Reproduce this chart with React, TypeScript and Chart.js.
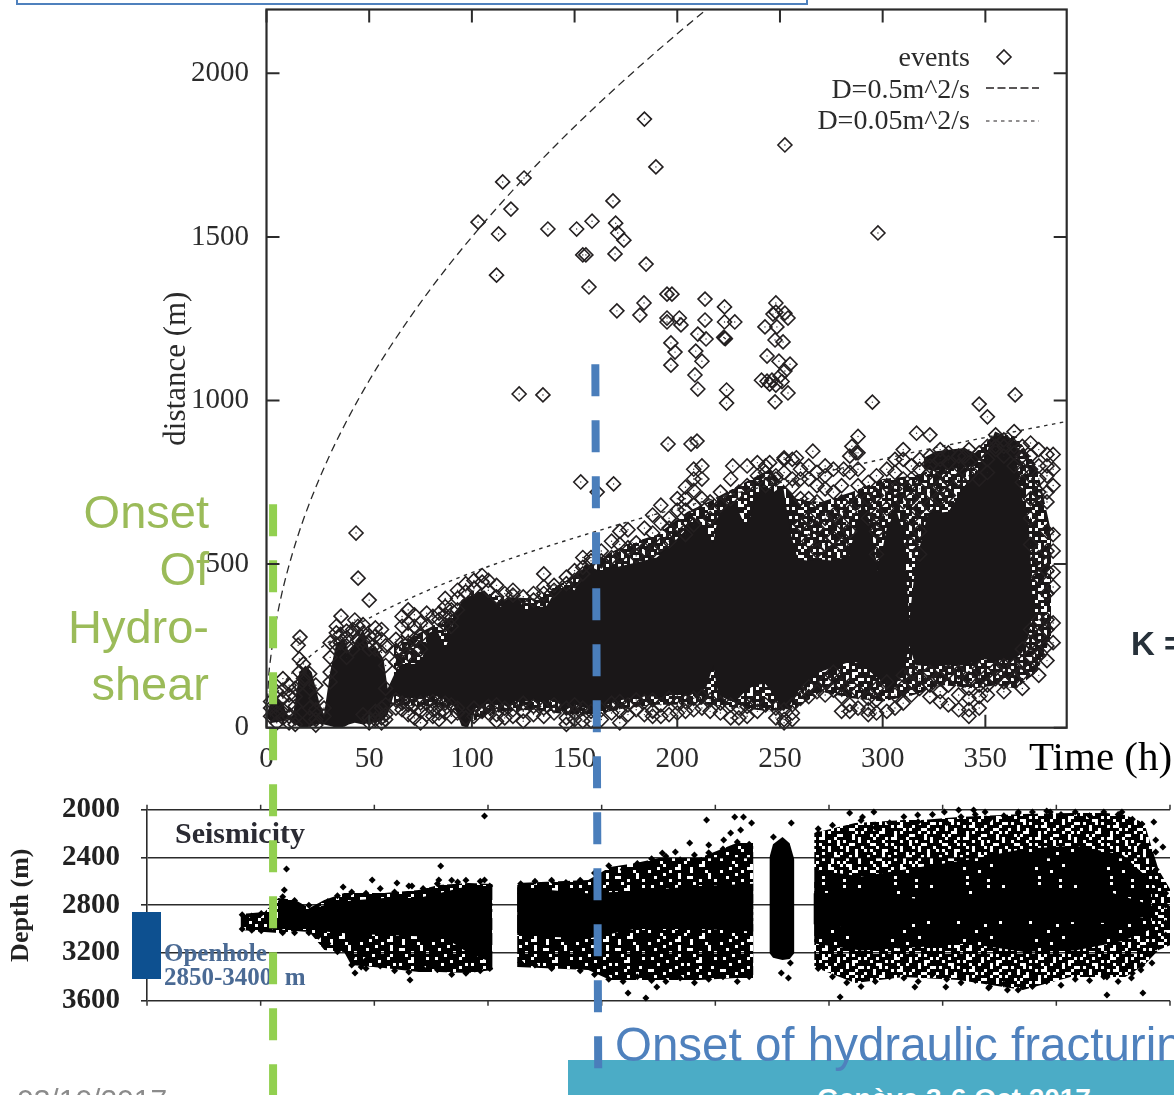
import React, { useEffect, useRef } from "react";
import { Chart, registerables } from "chart.js";

Chart.register(...registerables);

// ---------- upper panel: distance vs time ----------
const xTickValues = [0,50,100,150,200,250,300,350];
const yTickValues = [0,500,1000,1500,2000];

const isolatedEvents: [number, number][] = [
  [184,1860],[252.4,1781],[189.6,1714],[115,1668],[125.4,1680],[119,1585],[103,1545],[113,1509],[112,1383],[137,1524],
  [151,1524],[158.5,1548],[154,1445],[155.5,1445],[157,1347],[168.7,1610],[170,1542],[171,1512],[174,1490],[169.7,1448],
  [184.8,1417],[297.7,1512],[170.6,1274],[181.8,1261],[183.8,1298],[195,1325],[197.4,1325],[213.5,1310],[223,1286],[195,1252],
  [195,1240],[201,1252],[201.8,1231],[213.5,1246],[223,1240],[228,1240],[196.9,1176],[198.9,1148],[196.9,1108],[210,1203],
  [214,1188],[209,1151],[212,1120],[208.6,1078],[210,1035],[223,1191],[223.4,1189],[222.6,1193],[224,1032],[224,992],
  [248,1298],[248,1270],[246.6,1264],[252.4,1267],[253.9,1252],[242.7,1225],[248.5,1225],[247.6,1185],[251.5,1179],[243.7,1136],
  [249.5,1120],[254.9,1111],[252.4,1090],[243.7,1059],[248,1047],[246.1,1062],[253.9,1023],[247.6,996],[241,1062],[245,1050],
  [250,1075],[251,1058],[123,1020],[134.6,1017],[295,995],[347,989],[351,950],[364.5,1017],[43.6,595],[44.6,457],
  [50,390],[153,751],[161,720],[169,745],[195.5,867],[206.7,867],[209.6,876],[16.3,277],[15.4,252],[36.3,341],
  [43,329],[316.5,900],[323,895],[285,860],[288,890],[287,840],[340,830],[227,800],[245,810],[252,825],
  [258,825],[266,845],[272,800],[281,790],
];

const fringeColumns: [number, number[]][] = [
  [2,[60,35,80]],[5,[110,70,45,15]],[8,[150,115,90,55,30]],[11,[130,100,70,35,15]],[14,[120,95,65,30,10]],[16,[210,170,130]],[18,[195,150]],[21,[165,120,60,30]],[24,[130,90,55,25,8]],[28,[60,35]],
  [31,[170,215,260,140]],[34,[255,290,310]],[36,[285,260]],[39,[275,295,250,215]],[42,[300,290,240]],[44.5,[310,270]],[47,[315,290,265,40]],[50,[280,260,240,30,15]],[53,[305,280,240,50,25]],[56,[300,270,230,60,30,15]],[58,[250,190,120,70,40,25]],
  [63,[270,235,200,85,60]],[66,[310,340,260,235,75,55]],[69,[360,320,285,260,225,70,40]],[72,[345,310,270,235,70,30]],[75,[320,280,240,75,50,15]],[78,[350,310,75,40]],[81,[340,80,55,35]],[84,[350,330,70,45,25]],[87,[395,370,345,315,75,45]],[90,[360,335,310,70,35]],[93,[420,395,360,60,45]],[97,[440,415,30]],[101,[450,425,60,35]],[105,[465,445,50]],[108,[450,420,65,45]],[112,[435,400,70,40,20]],[116,[410,60,30]],[120,[420,405,55,35]],[125,[400,75,50,20]],[130,[410,390,65,40]],[135,[470,430,410,60,35]],[140,[420,435,70,45]],[146,[460,440,60,30,10]],[150,[480,450,70,45,25]],[154,[520,490,470,60,20]],[158,[520,510,50,20]],
  [163,[540,510,55,25]],[168,[570,520,75,45]],[172,[600,560,525,80,50,15]],[176,[605,550,70,40]],[180,[565,525,85,55]],[184,[610,545,80,40]],[188,[650,595,540,85,50,35]],[192,[680,625,560,70,35]],[196,[640,610,570,90,40]],[200,[700,665,620,75,45]],[204,[735,700,665,590,80,50]],[208,[790,760,725,680,620,90,55]],[212,[800,760,700,95,60]],[216,[690,640,85,50]],[221,[720,680,75,45]],[226,[760,700,70,30]],[230,[720,60,30]],[234,[800,740,65,35]],[239,[810,770,85,50]],[243,[800,780,740,70]],[248,[770,760,60,30]],[252,[820,780,55,25,15]],[256,[820,760,735,70,45,25]],[260,[790,760,700,620,90]],[264,[800,760,700,640,570,125,95]],[268,[780,740,690,610,540,110]],[272,[770,730,640,560,140,100]],[276,[790,720,650,580,170,115]],[280,[740,690,625,560,130,95,50]],[284,[830,780,660,600,130,70,50]],[288,[840,790,740,690,110,60]],[293,[750,700,640,90,40,55]],[297,[770,710,650,600,530,120,85,45]],[302,[790,740,670,140,50]],[306,[820,780,730,100,60]],[310,[850,820,760,690,160,125,75]],[314,[800,760,700,640,560,170,140,100]],[318,[820,790,730,670,600,530,150,120]],
  [323,[830,800,780,720,680,170,130,95]],[328,[850,820,790,740,700,150,110,80]],[332,[840,810,760,710,170,130,70]],[337,[830,800,760,170,100,55]],[342,[850,810,770,150,120,90,55,35]],[347,[840,800,760,180,130,95,60]],[351,[860,820,780,130,100]],[355,[895,860,850,180,150]],[359,[880,860,830,190,140,110]],[364,[905,860,840,800,190,150]],[368,[860,830,790,750,240,200,165,120]],
  [372,[870,830,790,700,640,560,300,260,220,180]],[376,[850,800,760,720,520,460,330,280,220,160]],[380,[835,800,770,720,690,600,540,480,410,330,300,250,205]],[383,[835,790,740,590,540,475,430,320,260]],
];

const coreHours = [0,3,8,11,13,16,19,22,26,28,31,34,38,40,43,47,50,53,57,59,62,66,72,76,79,83,87,91,95,98,102,106,110,114,118,122,126,131,136,141,146,150,155,162,170,180,190,198,205,210,214,217.5,220,226,230,233.6,238,242.7,247,251.5,255,258.7,264,269.5,276,283.6,287,290.6,294,297.7,302,306.7,310,313,316,322,332,340,348,354.7,363.7,368,371,373];
const coreTop = [40,95,70,30,40,170,190,170,70,40,170,260,270,230,260,300,240,250,210,120,160,195,195,215,290,300,240,320,390,400,410,420,395,370,390,400,360,370,370,420,430,420,500,480,490,505,520,565,610,645,600,565,650,690,660,610,690,740,720,740,600,515,510,515,510,525,620,690,620,480,610,665,600,330,500,655,660,740,800,905,880,700,640,400];
const coreBottom = [30,15,20,28,15,3,0,5,12,10,5,0,3,10,15,10,15,15,25,40,100,90,90,95,95,95,85,70,5,0,60,70,75,75,60,85,80,85,85,80,55,70,60,60,80,95,95,100,100,105,120,190,100,80,90,115,130,135,100,50,70,110,140,170,185,200,200,190,170,150,130,135,170,250,190,190,190,190,210,205,205,230,280,350];
const stripHours = [320,326,333,340,346];
const stripTop = [825,845,850,855,835];
const stripBottom = [790,785,790,795,800];
const netHours = [62,90,100,115,130,146,160,175,190,205,215,230,245,258,270,285,300,315,330,345,355,365,375,382];
const netTop = [250,340,420,400,395,450,510,560,590,660,690,740,790,700,690,720,760,770,800,840,900,890,800,600];
const netBottom = [70,60,20,50,55,40,40,60,70,70,70,60,50,60,110,90,80,100,130,120,130,120,170,270];

const curveHalfHours = [0,1,2,4,7,10,15,20,30,40,50,60,80,100,120,140,160,180,200,214];
const curveHalf = [0,150,212,300,397,474,581,671,822,949,1061,1162,1342,1500,1643,1775,1897,2012,2121,2194];
const curveTwentiethHours = [5,10,20,30,50,75,100,125,150,175,200,225,250,275,300,325,350,370,388];
const curveTwentieth = [106,150,212,260,335,410,474,530,580,627,670,711,749,786,821,855,887,912,934];

const greenOnset = [[3.2,683],[3.2,-1123]];
const blueOnset = [[160.1,1111],[161.5,-1041]];

// ---------- lower panel: depth vs time ----------
const depthTickValues = [2000,2400,2800,3200,3600];
const burstOneHours = [39.3,49.4,55.2,62.3,68.2,74.5,82.8,85.8,99.6,114.2,122.6,135.1,145.2];
const burstOneTop = [2873,2856,2740,2756,2823,2756,2698,2698,2698,2672,2630,2614,2622];
const burstOneBottom = [3007,3024,3032,3016,3024,3175,3192,3301,3326,3359,3359,3367,3343];
const burstTwoHours = [155.5,185.4,194.6,205.4,215,232,247.7,254.8];
const burstTwoTop = [2614,2588,2480,2446,2405,2405,2279,2279];
const burstTwoBottom = [3318,3343,3427,3427,3427,3427,3410,3410];
const burstThreeHours = [280.3,297.5,318,325.5,341,368,388,403,411,419,425,430];
const burstThreeTop = [2195,2111,2086,2086,2061,2036,2028,2028,2044,2111,2504,2672];
const burstThreeBottom = [3318,3451,3401,3410,3427,3510,3401,3401,3401,3301,3175,3133];
const denseThreeHours = [280.3,300,325,345,368,390,410,422];
const denseThreeTop = [2500,2560,2480,2420,2330,2300,2380,2600];
const denseThreeBottom = [3120,3180,3150,3120,3190,3180,3100,3000];

const barHours = [261.5,263,267,270,272];
const barTop = [2400,2290,2228,2280,2420];
const barBottom = [3200,3240,3260,3250,3200];
const solidOneHours = [55,62,68,74.5,85.8,99.6,114,122.6,135,145];
const solidOneTop = [2760,2770,2850,2800,2760,2740,2740,2700,2640,2640];
const solidOneBottom = [3000,3000,3000,3020,3040,3050,3060,3040,3200,3280];
const solidTwoHours = [155.5,185,205,232,254.8];
const solidTwoTop = [2650,2700,2680,2640,2620];
const solidTwoBottom = [3050,3080,3000,3000,3020];
const solidThreeHours = [280,300,325,368,403,419];
const solidThreeTop = [2700,2690,2750,2680,2680,2780];
const solidThreeBottom = [2960,3000,2930,2930,2950,2900];

const seismicOutliers: [number, number][] = [
  [141.8,2053],[123.4,2472],[58.6,2497],[110.5,3427],[90,3318],[87.4,3368],[57.7,2672],[82.4,2647],[94.6,2589],[105,2614],[111.3,2639],[122.6,2589],[130.5,2606],[141.8,2589],
  [235.1,2086],[246.9,2061],[250.6,2061],[254,2111],[249.4,2170],[245.2,2195],[228,2279],[216.5,2363],[222,2354],[236,2296],[242.3,2254],[270.7,2111],[263.2,2228],[202.1,3535],[209.6,3577],[214.2,3485],
  [291.2,3569],[322.6,3485],[335.6,3485],[353.6,3493],[361.5,3510],[403.3,3552],[418.4,3535],[295.2,2028],[300.6,2061],[305.4,2019],[323.8,2044],[335,2019],[341,2002],[347.3,2002],[352.1,2019],[366.1,2019],[379.5,2019],[409.6,2019],
  [423,2103],[423.8,2254],[423.8,2354],[426.8,2312],[266.5,3368],[269.5,3410],[270.3,3284],[423.8,3150],[422.2,3284],[417.6,3343],[413.6,3410],[403.3,3401],
];
const seismicColumns: [number, number[]][] = [
  [40,[2880,3000]],[44,[2890,3010]],[48,[2870,3015]],[52,[2900,2990]],[57,[2730,3030]],[62,[2760,3030]],[68,[2800,3030]],[72,[2830,3060]],[76,[2770,3120]],[80,[2720,3190]],[86,[2690,3240,3300]],[92,[2700,3260,3330]],[98,[2660,3310]],[104,[2690,3350]],[110,[2640,3360]],[116,[2660,3330]],[122,[2620,3340]],[128,[2590,3380]],[134,[2590,3370]],[140,[2600,3350]],[144,[2640,3330]],
  [157,[2620,2700,3280]],[163,[2600,3300]],[170,[2590,3330]],[176,[2610,3290]],[182,[2590,3350]],[188,[2530,3380]],[194,[2470,3420]],[200,[2500,3440]],[206,[2450,3400]],[212,[2410,3430]],[218,[2390,3440]],[224,[2420,3410]],[230,[2380,3450]],[236,[2360,3420]],[242,[2330,3400]],[248,[2270,3440]],[253,[2290,3400]],
  [282,[2200,2160,3330]],[288,[2130,3400]],[294,[2190,3450]],[300,[2090,3480]],[306,[2150,3440]],[312,[2110,3400]],[318,[2060,3410]],[324,[2100,3440]],[330,[2040,3380]],[336,[2110,3420]],[342,[2060,3450]],[348,[2040,3430]],[354,[2080,3480]],[360,[2050,3460]],[366,[2030,3510]],[372,[2020,3480]],[378,[2010,3440]],[384,[2040,3470]],[390,[2020,3420]],[396,[2050,3430]],[402,[2020,3400]],[408,[2040,3440]],[414,[2080,3370]],[418,[2120,2300,3300]],[424,[2500,2620,3150]],[428,[2700,2800,2950,3050]],
];

const denseRows = [
  "#####.####.######..#####","###.#####..###.#########",".######.######.####.####","#####.####.#########.###",
  "##.#######.##..#####.###","#######.#########.####.#","####.#####.####.########","#.#######.#######.####.#",
  "######.#########..######","###.#######.#.##########","#########.#######.###.##","..#####.########.#######",
  "#####.#######.######.###","##.########.#####.######","######.###.#########..##","#.#########.#####.######",
  "####.####.##########.###","###########.###.####.###","#.####.#######.#########","#######.###.#########.##",
  "##.##########.##.#######","#####.###.########.###.#",".#######.####.######.###","####.#######.#####.#####",
];
const looseRows = [
  "###.##..####.###.#..####",".###.####.##..#####.##.#","##..####.#####.#.###..##","####.#..###.####.##.####",
  "#.#####.##..###.#####.#.","###..###.#####.##..#####","#.####.###.#.#####.#.###",".###.#####..###.#.####.#",
  "##.####.#.#####.####..##","####..#####.##.###.#.###","#.###.#.####.#####.###..","###.#####.#..###.####.##",
  ".##.##.######.#.###..###","#####..###.#.#####.##.#.","##.#.#####.####..###.###","###.###.#..###.#####.#.#",
  "#.####.#####.##.#.####.#","##..###.#.#####.###..###","####.#####.#.###.#.####.",".#.###..####.#####.##.##",
  "###.##.###.###.#.####.##","#.####.#.#####..###.#.##","####..####.##.####.###.#","##.###.#.####.#.#.####.#",
];

const SERIF = '"Liberation Serif", serif';
const SANS = '"Liberation Sans", sans-serif';
const INK = "#231f20";

const toPoints = (xs: number[], ys: number[]) => xs.map((x, i) => ({ x, y: ys[i] }));
const fromPairs = (p: number[][]) => p.map(([x, y]) => ({ x, y }));
const fromColumns = (c: [number, number[]][]) => c.flatMap(([x, ys]) => ys.map((y) => ({ x, y })));
const plainNumber = (v: any) => String(v);
const fixedTicks = (values: number[]) => (s: any) => { s.ticks = values.map((value) => ({ value })); };

const band = (xs: number[], top: number[], bottom: number[], color: any, order: number) => [
  { data: toPoints(xs, top), fill: "+1", backgroundColor: color, borderWidth: 0, pointRadius: 0, order, clip: false },
  { data: toPoints(xs, bottom), fill: false, borderWidth: 0, pointRadius: 0, order, clip: false },
];

const frameAndTicks = {
  id: "frameAndTicks",
  afterDatasetsDraw(chart: any) {
    const { ctx, chartArea: a, scales } = chart;
    ctx.save();
    ctx.strokeStyle = "#2b2b2b";
    ctx.lineWidth = 2;
    ctx.beginPath();
    for (const t of scales.x.ticks) {
      const p = scales.x.getPixelForValue(t.value);
      ctx.moveTo(p, a.top); ctx.lineTo(p, a.top + 13);
      ctx.moveTo(p, a.bottom); ctx.lineTo(p, a.bottom - 13);
    }
    for (const t of scales.y.ticks) {
      const p = scales.y.getPixelForValue(t.value);
      ctx.moveTo(a.left, p); ctx.lineTo(a.left + 13, p);
      ctx.moveTo(a.right, p); ctx.lineTo(a.right - 13, p);
    }
    ctx.stroke();
    ctx.lineWidth = 2.2;
    ctx.strokeRect(a.left, a.top, a.right - a.left, a.bottom - a.top);
    ctx.restore();
  },
};

const legendLabels = ["events", "D=0.5m^2/s", "D=0.05m^2/s"];
const insideLegend = {
  id: "insideLegend",
  afterDatasetsDraw(chart: any) {
    const { ctx } = chart;
    ctx.save();
    ctx.fillStyle = "#2b2b2b";
    ctx.font = `28px ${SERIF}`;
    ctx.textAlign = "right";
    ctx.textBaseline = "middle";
    const rows = [59, 91, 122];
    legendLabels.forEach((s, i) => ctx.fillText(s, 970, rows[i]));
    ctx.strokeStyle = INK;
    ctx.lineWidth = 1.6;
    ctx.beginPath();
    ctx.moveTo(1004, 50); ctx.lineTo(1011, 57); ctx.lineTo(1004, 64); ctx.lineTo(997, 57); ctx.closePath();
    ctx.stroke();
    ctx.lineWidth = 1.5;
    ctx.setLineDash([8, 3.5]);
    ctx.beginPath(); ctx.moveTo(986, 88); ctx.lineTo(1039, 88); ctx.stroke();
    ctx.lineWidth = 1.2;
    ctx.setLineDash([3.5, 4]);
    ctx.beginPath(); ctx.moveTo(986, 121); ctx.lineTo(1039, 121); ctx.stroke();
    ctx.restore();
  },
};

const lowerTicks = {
  id: "lowerTicks",
  afterDraw(chart: any) {
    const { ctx, chartArea: a, scales } = chart;
    ctx.save();
    ctx.strokeStyle = "#333";
    ctx.lineWidth = 1.5;
    ctx.beginPath();
    for (const t of scales.x.ticks) {
      const p = scales.x.getPixelForValue(t.value);
      ctx.moveTo(p, a.top - 5); ctx.lineTo(p, a.top);
      ctx.moveTo(p, a.bottom); ctx.lineTo(p, a.bottom + 5);
    }
    ctx.stroke();
    ctx.restore();
  },
};

function speckle(ctx: CanvasRenderingContext2D, rows: string[], ink: string) {
  const cell = 3;
  const tile = document.createElement("canvas");
  tile.width = tile.height = rows.length * cell;
  const t = tile.getContext("2d")!;
  t.fillStyle = ink;
  rows.forEach((row, j) =>
    [...row].forEach((c, i) => { if (c === "#") t.fillRect(i * cell, j * cell, cell, cell); }),
  );
  return ctx.createPattern(tile, "repeat");
}

const box = (left: number, top: number, font: string, size: number, color: string, weight = 400): React.CSSProperties => ({
  position: "absolute", left, top, fontFamily: font, fontSize: size, lineHeight: 1, color, fontWeight: weight, whiteSpace: "pre", zIndex: 2,
});

export default function App() {
  const upperRef = useRef<HTMLCanvasElement>(null);
  const lowerRef = useRef<HTMLCanvasElement>(null);

  useEffect(() => {
    const eventPoints = [...fromPairs(isolatedEvents), ...fromColumns(fringeColumns)];
    const upperCtx = upperRef.current!.getContext("2d")!;
    const netPattern = speckle(upperCtx, looseRows, "#1a1718");
    const upper = new Chart(upperRef.current!, {
      type: "line",
      data: {
        datasets: [
          ...band(netHours, netTop, netBottom, netPattern, 6),
          ...band(coreHours, coreTop, coreBottom, "#1a1718", 5),
          ...band(stripHours, stripTop, stripBottom, "#1a1718", 5),
          { label: "events", data: eventPoints, showLine: false, pointStyle: "rectRot", pointRadius: 7, pointBorderWidth: 1.6, pointBorderColor: INK, pointBackgroundColor: "transparent", order: 4, clip: false },
          { label: "event centres", data: eventPoints, showLine: false, pointStyle: "circle", pointRadius: 0.7, pointBorderWidth: 0, pointBackgroundColor: INK, order: 3, clip: false },
          { label: "D=0.5m^2/s", data: toPoints(curveHalfHours, curveHalf), borderColor: "#2b2b2b", borderWidth: 1.3, borderDash: [8, 5], pointRadius: 0, cubicInterpolationMode: "monotone", order: 2 },
          { label: "D=0.05m^2/s", data: toPoints(curveTwentiethHours, curveTwentieth), borderColor: "#2b2b2b", borderWidth: 1.4, borderDash: [3.5, 4.5], pointRadius: 0, cubicInterpolationMode: "monotone", order: 2 },
          { label: "Onset of hydro-shear", data: fromPairs(greenOnset), borderColor: "#92d050", borderWidth: 8, borderDash: [32, 24], pointRadius: 0, order: 1, clip: false },
          { label: "Onset of hydraulic fracturing", data: fromPairs(blueOnset), borderColor: "#4a7ebb", borderWidth: 8, borderDash: [32, 24], pointRadius: 0, order: 0, clip: false },
        ] as any,
      },
      options: {
        responsive: false, animation: false, events: [],
        layout: { padding: { top: 9.5, right: 107.3, left: 0, bottom: 0 } },
        plugins: { legend: { display: false }, tooltip: { enabled: false } },
        scales: {
          x: {
            type: "linear", min: 0, max: 389.6,
            grid: { display: false, drawTicks: false },
            border: { display: false },
            afterBuildTicks: fixedTicks(xTickValues),
            ticks: { callback: plainNumber, maxRotation: 0, autoSkip: false, padding: 14, color: "#2b2b2b", font: { family: SERIF, size: 29 } },
            afterFit: (s: any) => { s.height = 1095 - 727.7; s.paddingLeft = 0; s.paddingRight = 0; },
          },
          y: {
            min: 0, max: 2195,
            grid: { display: false, drawTicks: false },
            border: { display: false },
            afterBuildTicks: fixedTicks(yTickValues),
            ticks: { callback: plainNumber, autoSkip: false, padding: 17.5, color: "#2b2b2b", font: { family: SERIF, size: 29 } },
            title: { display: true, text: "distance (m)", color: "#2b2b2b", font: { family: SERIF, size: 31 }, padding: { top: 158, bottom: 0 } },
            afterFit: (s: any) => { s.width = 266.5; s.paddingTop = 0; s.paddingBottom = 0; },
          },
        },
      } as any,
      plugins: [frameAndTicks, insideLegend],
    });

    const lowerCtx = lowerRef.current!.getContext("2d")!;
    const dense = speckle(lowerCtx, denseRows, "#000");
    const loose = speckle(lowerCtx, looseRows, "#000");
    const lower = new Chart(lowerRef.current!, {
      type: "line",
      data: {
        datasets: [
          ...band(burstOneHours, burstOneTop, burstOneBottom, dense, 5),
          ...band(burstTwoHours, burstTwoTop, burstTwoBottom, dense, 5),
          ...band(burstThreeHours, burstThreeTop, burstThreeBottom, loose, 6),
          ...band(denseThreeHours, denseThreeTop, denseThreeBottom, dense, 5),
          ...band(solidOneHours, solidOneTop, solidOneBottom, "#000", 4),
          ...band(solidTwoHours, solidTwoTop, solidTwoBottom, "#000", 4),
          ...band(solidThreeHours, solidThreeTop, solidThreeBottom, "#000", 4),
          ...band(barHours, barTop, barBottom, "#000", 4),
          { label: "seismicity", data: [...fromPairs(seismicOutliers), ...fromColumns(seismicColumns)], showLine: false, pointStyle: "rectRot", pointRadius: 3.5, pointBorderWidth: 0, pointBackgroundColor: "#000", order: 1, clip: false },
        ] as any,
      },
      options: {
        responsive: false, animation: false, events: [],
        layout: { padding: { top: 809.7, right: 0, left: 0, bottom: 0 } },
        plugins: { legend: { display: false }, tooltip: { enabled: false } },
        scales: {
          x: {
            type: "linear", min: 0, max: 429.8,
            grid: { display: false, drawTicks: false },
            border: { display: false },
            ticks: { stepSize: 48, includeBounds: false, display: false, autoSkip: false },
            afterFit: (s: any) => { s.height = 1095 - 1000.7; s.paddingLeft = 0; s.paddingRight = 0; },
          },
          y: {
            reverse: true, min: 2000, max: 3600,
            grid: { color: "#2b2b2b", lineWidth: 1.6, tickLength: 6 },
            border: { display: true, color: "#2b2b2b", width: 1.6 },
            afterBuildTicks: fixedTicks(depthTickValues),
            ticks: { callback: plainNumber, autoSkip: false, padding: 21, color: "#222", font: { family: SERIF, size: 29, weight: "bold" } },
            title: { display: true, text: "Depth (m)", color: "#222", font: { family: SERIF, size: 26, weight: "bold" }, padding: { top: 6, bottom: 0 } },
            afterFit: (s: any) => { s.width = 147; s.paddingTop = 0; s.paddingBottom = 0; },
          },
        },
      } as any,
      plugins: [lowerTicks],
    });

    return () => { upper.destroy(); lower.destroy(); };
  }, []);

  const canvasStyle: React.CSSProperties = { position: "absolute", left: 0, top: 0, display: "block" };

  return (
    <div style={{ position: "absolute", left: 0, top: 0, width: 1174, height: 1095, overflow: "hidden", background: "#fff" }}>
      <canvas ref={lowerRef} width={1174} height={1095} style={{ ...canvasStyle, zIndex: 1 }} />

      <div style={{ position: "absolute", left: 16, top: -10, width: 788, height: 11, border: "2px solid #4f81bd", zIndex: 2 }} />

      <div style={{ position: "absolute", left: 132, top: 912, width: 29, height: 67, background: "#0d5090", zIndex: 2 }} />
      <div style={box(175, 818, SERIF, 30, "#2b2b33", 700)}>Seismicity</div>
      <div style={box(164, 940, SERIF, 25, "#4a6a94", 700)}>Openhole</div>
      <div style={box(164, 964, SERIF, 25, "#4a6a94", 700)}>{"2850-3400  m"}</div>

      <div style={{ position: "absolute", left: 568, top: 1060, width: 606, height: 35, background: "#4bacc6", zIndex: 2 }} />
      <div style={box(817, 1085, SANS, 28, "#ffffff", 700)}>Genève 3-6 Oct 2017</div>
      <div style={box(615, 1021, SANS, 47.5, "#4f81bd")}>Onset of hydraulic fracturing</div>
      <div style={box(17, 1085, SANS, 30, "#8b8b8b")}>03/10/2017</div>

      <div style={box(1029, 736, SERIF, 41, "#000")}>Time (h)</div>
      <div style={box(1131, 627, SANS, 33, "#27313a", 700)}>K =</div>

      {[["Onset", 488], ["Of", 545], ["Hydro-", 603], ["shear", 660]].map(([s, t]) => (
        <div key={s as string} style={{ ...box(0, t as number, SANS, 47, "#9bbb59"), left: undefined, right: 1174 - 209, zIndex: 4 }}>{s}</div>
      ))}

      <canvas ref={upperRef} width={1174} height={1095} style={{ ...canvasStyle, zIndex: 3 }} />
    </div>
  );
}
